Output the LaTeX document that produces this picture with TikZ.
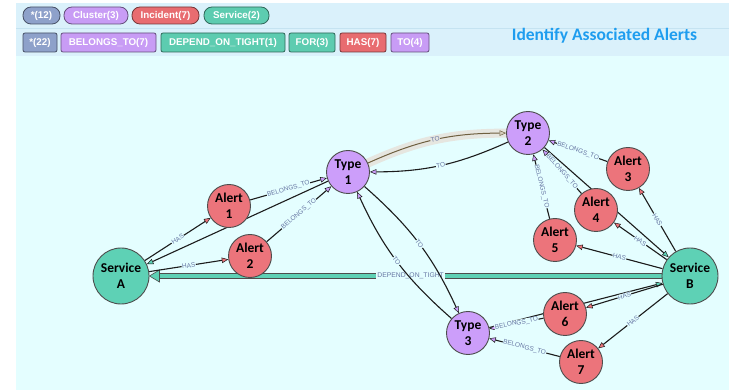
\documentclass[tikz,border=0pt]{standalone}
\usepackage{fontspec}
\setmainfont{Liberation Sans}
\newfontfamily\calib{Carlito}
\usetikzlibrary{arrows.meta}
\definecolor{canvas}{HTML}{E4FEFF}
\definecolor{headerbg}{HTML}{DAF1FB}
\definecolor{sepcol}{HTML}{C5E3F1}
\definecolor{alertfill}{HTML}{EC747B}
\definecolor{typefill}{HTML}{CC9EFA}
\definecolor{svcfill}{HTML}{5ED1B5}
\definecolor{nodeline}{HTML}{4D4D4D}
\definecolor{edgecol}{HTML}{1C1C1C}
\definecolor{lblcol}{HTML}{6676A3}
\definecolor{halocol}{HTML}{E6E6E0}
\definecolor{tobrown}{HTML}{6F6040}
\definecolor{halotip}{HTML}{D6CFC0}
\definecolor{titlecol}{HTML}{1E9DEF}
\definecolor{pillgray}{HTML}{8EA1CA}
\definecolor{pillpurple}{HTML}{C89CF5}
\definecolor{pillred}{HTML}{E86C70}
\definecolor{pillteal}{HTML}{5DCCB0}
\pgfdeclarelayer{back}
\pgfdeclarelayer{edges}
\pgfsetlayers{back,edges,main}
\begin{document}
\begin{tikzpicture}[x=1pt,y=1pt,
  nd/.style={circle, draw=nodeline, line width=0.9pt, inner sep=0pt, align=center, text=black,
    font=\calib\bfseries\fontsize{13.5}{16}\selectfont},
  svcnode/.style={nd, fill=svcfill, minimum size=56pt},
  alertnode/.style={nd, fill=alertfill, minimum size=43pt},
  typenode/.style={nd, fill=typefill, minimum size=43pt},
  edge/.style={draw=edgecol, line width=1.1pt},
  tA/.style={-{Triangle[length=6.5pt,width=5.5pt,line width=0.5pt,fill=alertfill]}},
  tT/.style={-{Triangle[length=6.5pt,width=5.5pt,line width=0.5pt,fill=typefill]}},
  tS/.style={-{Triangle[length=6.5pt,width=5.5pt,line width=0.5pt,fill=svcfill]}},
  lbl/.style={font=\fontsize{6.5}{7}\selectfont, text=lblcol, fill=canvas, inner sep=0.4pt, sloped},
  pill/.style={draw=#1!50!black, fill=#1, rounded corners=8pt, minimum height=17pt, inner sep=0pt,
    text=white, font=\bfseries\fontsize{9.8}{12}\selectfont, line width=0.8pt},
  tag/.style={draw=#1!50!black, fill=#1, rounded corners=2pt, minimum height=19pt, inner sep=0pt,
    text=white, font=\bfseries\fontsize{9.8}{12}\selectfont, line width=0.8pt}
]
\useasboundingbox (0,0) rectangle (729,-390);
\begin{pgfonlayer}{back}
  \fill[white] (0,0) rectangle (729,-390);
  \fill[canvas] (16,-56) rectangle (729,-390);
  \fill[headerbg] (16,-3) rectangle (729,-56);
  \draw[sepcol, line width=0.6pt] (16,-28.5) -- (729,-28.5);
\end{pgfonlayer}

% header
\node[pill=pillgray, minimum width=37pt] (p1) at (41.5,-15.5) {*(12)};
\node[pill=pillpurple, minimum width=64pt] (p2) at (96,-15.5) {Cluster(3)};
\node[pill=pillred, minimum width=67pt] (p3) at (165.5,-15.5) {Incident(7)};
\node[pill=pillteal, minimum width=65pt] (p4) at (236.5,-15.5) {Service(2)};
\node[tag=pillgray, minimum width=34pt] (q1) at (40,-42.5) {*(22)};
\node[tag=pillpurple, minimum width=95pt] (q2) at (108.5,-42.5) {BELONGS\_TO(7)};
\node[tag=pillteal, minimum width=124pt] (q3) at (223,-42.5) {DEPEND\_ON\_TIGHT(1)};
\node[tag=pillteal, minimum width=46pt] (q4) at (312,-42.5) {FOR(3)};
\node[tag=pillred, minimum width=46pt] (q5) at (363,-42.5) {HAS(7)};
\node[tag=pillpurple, minimum width=38pt] (q6) at (410,-42.5) {TO(4)};
\node[text=titlecol, font=\calib\bfseries\fontsize{17.5}{20}\selectfont] (title) at (604.5,-35.5) {Identify Associated Alerts};

% graph nodes
\node[svcnode] (A) at (121,-276) {Service\\A};
\node[svcnode] (B) at (690,-276) {Service\\B};
\node[alertnode] (Al1) at (229,-206) {Alert\\1};
\node[alertnode] (Al2) at (250,-256) {Alert\\2};
\node[alertnode] (Al3) at (628,-169) {Alert\\3};
\node[alertnode] (Al4) at (596,-210) {Alert\\4};
\node[alertnode] (Al5) at (555,-240) {Alert\\5};
\node[alertnode] (Al6) at (565,-314) {Alert\\6};
\node[alertnode] (Al7) at (581,-362) {Alert\\7};
\node[typenode] (T1) at (348,-172) {Type\\1};
\node[typenode] (T2) at (528,-133) {Type\\2};
\node[typenode] (T3) at (468,-333) {Type\\3};

\begin{pgfonlayer}{edges}
  % DEPEND_ON_TIGHT band
  \draw[line width=5.6pt, draw=nodeline, shorten >=9pt] (B) -- (A);
  \draw[line width=4pt, draw=svcfill, shorten >=9.6pt] (B) -- node[pos=0.49, font=\fontsize{6.8}{7}\selectfont, text=lblcol, fill=canvas, inner sep=1pt] {DEPEND\_ON\_TIGHT} (A);
  \filldraw[fill=svcfill, draw=nodeline, line width=0.6pt] (A.east) -- ++(10,6) -- ++(0,-12) -- cycle;

  % highlighted TO edge
  \draw[draw=halocol, line width=9pt, line cap=round] (T1) to[bend left=12] (T2);
  \draw[edge, draw=tobrown, line width=1pt, -{Triangle[length=6.5pt,width=5.5pt,line width=0.5pt,fill=halotip]}]
    (T1) to[bend left=12] node[lbl, fill=halocol] {TO} (T2);
  \draw[edge, tT] (T2) to[bend left=12] node[lbl] {TO} (T1);
  \draw[edge, tT] (T1) to[bend left=12] node[lbl] {TO} (T3);
  \draw[edge, tT] (T3) to[bend left=12] node[lbl] {TO} (T1);

  % FOR edges
  \draw[edge, tS] (T1) -- (A);
  \draw[edge, tS] (T2) -- (B);
  \draw[edge, tS] (T3) -- (B);

  % HAS edges
  \draw[edge, tA] (A) -- node[lbl] {HAS} (Al1);
  \draw[edge, tA] (A) -- node[lbl] {HAS} (Al2);
  \draw[edge, tA] (B) -- node[lbl] {HAS} (Al3);
  \draw[edge, tA] (B) -- node[lbl] {HAS} (Al4);
  \draw[edge, tA] (B) -- node[lbl] {HAS} (Al5);
  \draw[edge, tA] (B) -- node[lbl] {HAS} (Al6);
  \draw[edge, tA] (B) -- node[lbl] {HAS} (Al7);

  % BELONGS_TO edges
  \draw[edge, tT] (Al1) -- node[lbl] {BELONGS\_TO} (T1);
  \draw[edge, tT] (Al2) -- node[lbl] {BELONGS\_TO} (T1);
  \draw[edge, tT] (Al3) -- node[lbl] {BELONGS\_TO} (T2);
  \draw[edge, tT] (Al4) -- node[lbl] {BELONGS\_TO} (T2);
  \draw[edge, tT] (Al5) -- node[lbl] {BELONGS\_TO} (T2);
  \draw[edge, tT] (Al6) -- node[lbl] {BELONGS\_TO} (T3);
  \draw[edge, tT] (Al7) -- node[lbl] {BELONGS\_TO} (T3);
\end{pgfonlayer}
\end{tikzpicture}
\end{document}
